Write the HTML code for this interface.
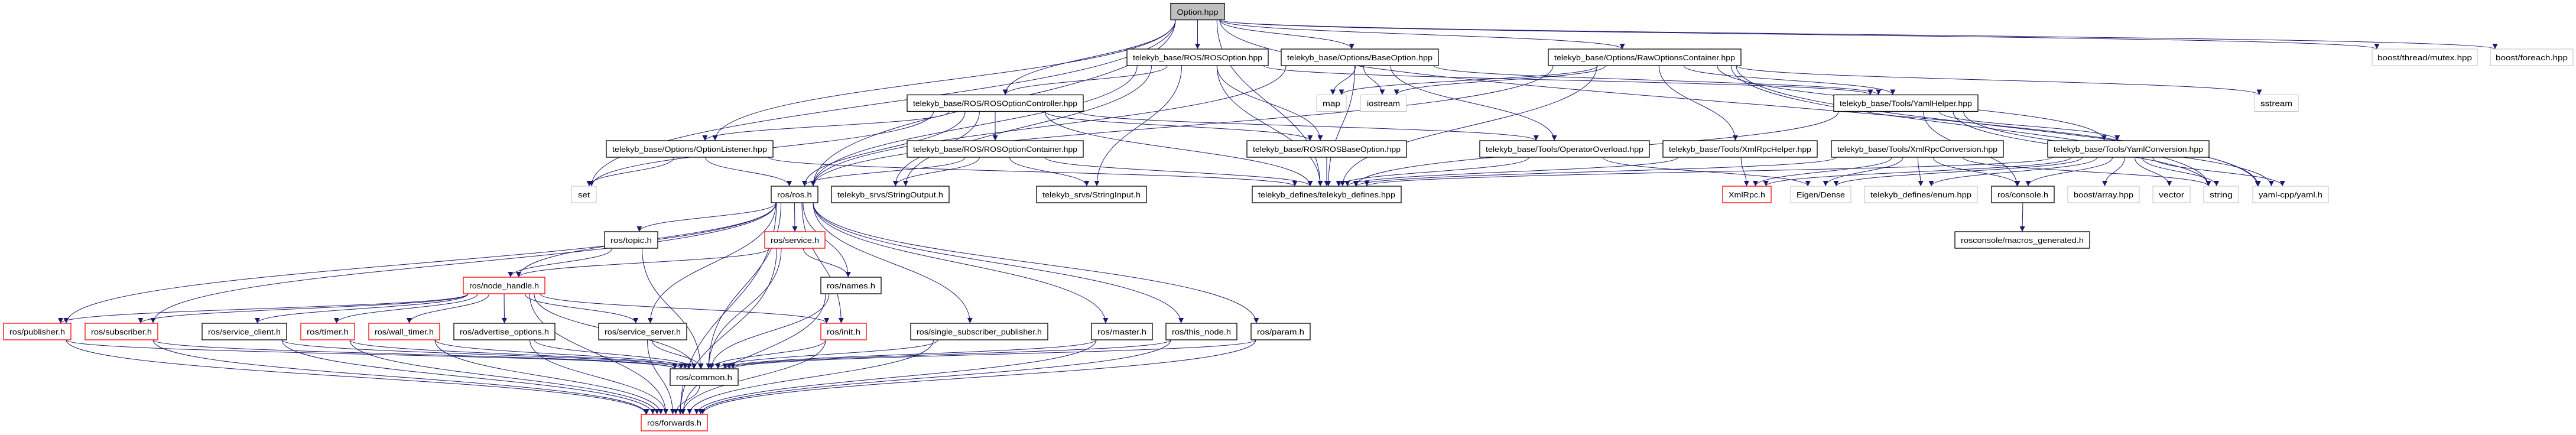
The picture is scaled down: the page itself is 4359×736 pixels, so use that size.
<!DOCTYPE html>
<html><head><meta charset="utf-8"><style>
html,body{margin:0;padding:0;background:#fff;width:4359px;height:736px;overflow:hidden}
svg{display:block}
text{font-family:"Liberation Sans",sans-serif;font-size:13px;fill:#000}
</style></head><body>
<svg id="g" width="4359" height="736" viewBox="0 0 4359 736" xmlns="http://www.w3.org/2000/svg">
<defs><marker id="a" viewBox="0 0 10 10" refX="10" refY="5" markerWidth="9" markerHeight="9" orient="auto" markerUnits="userSpaceOnUse"><path d="M0,0L10,5L0,10z" fill="#191970"/></marker></defs>
<g id="edges" fill="none" stroke="#191970" stroke-width="1"></g>
<g id="nodes"></g>
</svg>
<script>
var R=[5.6,83,160.5,238,315,392,469,547,624,701];
// id:[x1,x2,row,style,label]  style: b black, r red, g gray, o option
var N={
OPT:[1981,2072,0,'o','Option.hpp'],
ROSO:[1907,2146,1,'b','telekyb_base/ROS/ROSOption.hpp'],
BASE:[2168,2434,1,'b','telekyb_base/Options/BaseOption.hpp'],
RAW:[2620,2946,1,'b','telekyb_base/Options/RawOptionsContainer.hpp'],
MUT:[4014,4192,1,'g','boost/thread/mutex.hpp'],
FOR:[4214,4354,1,'g','boost/foreach.hpp'],
ROC:[1535,1833,2,'b','telekyb_base/ROS/ROSOptionController.hpp'],
MAP:[2228,2278,2,'g','map'],
IOS:[2302,2380,2,'g','iostream'],
YH:[3103,3347,2,'b','telekyb_base/Tools/YamlHelper.hpp'],
SST:[3815,3889,2,'g','sstream'],
OL:[1026,1308,3,'b','telekyb_base/Options/OptionListener.hpp'],
ROCT:[1535,1833,3,'b','telekyb_base/ROS/ROSOptionContainer.hpp'],
RBO:[2110,2380,3,'b','telekyb_base/ROS/ROSBaseOption.hpp'],
OO:[2504,2791,3,'b','telekyb_base/Tools/OperatorOverload.hpp'],
XRH:[2814,3075,3,'b','telekyb_base/Tools/XmlRpcHelper.hpp'],
XRC:[3099,3390,3,'b','telekyb_base/Tools/XmlRpcConversion.hpp'],
YC:[3465,3738,3,'b','telekyb_base/Tools/YamlConversion.hpp'],
SET:[967,1009,4,'g','set'],
ROS:[1305,1384,4,'b','ros/ros.h'],
SO:[1407,1606,4,'b','telekyb_srvs/StringOutput.h'],
SI:[1754,1940,4,'b','telekyb_srvs/StringInput.h'],
TD:[2119,2371,4,'b','telekyb_defines/telekyb_defines.hpp'],
XR:[2915,2997,4,'r','XmlRpc.h'],
ED:[3030,3132,4,'g','Eigen/Dense'],
EN:[3155,3346,4,'g','telekyb_defines/enum.hpp'],
RC:[3370,3476,4,'b','ros/console.h'],
BA:[3499,3620,4,'g','boost/array.hpp'],
VEC:[3643,3706,4,'g','vector'],
STR:[3729,3788,4,'g','string'],
YAML:[3812,3940,4,'g','yaml-cpp/yaml.h'],
TOP:[1023,1113,5,'b','ros/topic.h'],
SRV:[1294,1396,5,'r','ros/service.h'],
MG:[3308,3536,5,'b','rosconsole/macros_generated.h'],
NH:[784,922,6,'r','ros/node_handle.h'],
NAM:[1389,1491,6,'b','ros/names.h'],
PUB:[6,120,7,'r','ros/publisher.h'],
SUB:[144,267,7,'r','ros/subscriber.h'],
SC:[342,485,7,'b','ros/service_client.h'],
TIM:[509,600,7,'r','ros/timer.h'],
WT:[624,744,7,'r','ros/wall_timer.h'],
AO:[768,939,7,'b','ros/advertise_options.h'],
SS:[1013,1162,7,'b','ros/service_server.h'],
INIT:[1389,1466,7,'r','ros/init.h'],
SSP:[1541,1773,7,'b','ros/single_subscriber_publisher.h'],
MAS:[1847,1950,7,'b','ros/master.h'],
TN:[1973,2093,7,'b','ros/this_node.h'],
PAR:[2117,2217,7,'b','ros/param.h'],
COM:[1134,1249,8,'b','ros/common.h'],
FWD:[1085,1197,9,'r','ros/forwards.h']
};
var E={
OPT:'ROSO BASE RAW MUT FOR ROC OL SET ROS TD YAML',
ROSO:'ROC ROS SO SI TD YH RBO',
BASE:'MAP IOS ROS TD YH OO',
RAW:'MAP IOS TD XRH YH SST YC STR YAML ROS',
ROC:'OL ROCT ROS SO TD RBO SET OO',
ROCT:'ROS SO SI TD',
OL:'SET TD ROS',
RBO:'TD',OO:'TD ED',XRH:'XR TD',
XRC:'XR ED EN RC TD STR',
YH:'TD YC RC STR YAML',
YC:'TD RC BA VEC STR YAML EN ED XR',
RC:'MG',
ROS:'TOP SRV NAM NH PUB SUB SS INIT SSP MAS TN PAR COM FWD',
TOP:'NH COM',SRV:'NH NAM COM FWD',NAM:'COM FWD',
NH:'PUB SUB SC TIM WT AO SS INIT COM FWD',
PUB:'COM FWD',SUB:'COM FWD',SC:'COM FWD',TIM:'COM FWD',WT:'COM FWD',AO:'COM FWD',SS:'COM FWD',INIT:'COM FWD',SSP:'COM FWD',MAS:'COM FWD',TN:'COM FWD',PAR:'COM FWD',
COM:'FWD'
};
var NS='http://www.w3.org/2000/svg',eg=document.getElementById('edges'),ng=document.getElementById('nodes');
function ctr(n){return (n[0]+n[1])/2}
for(var s in E){E[s].split(' ').forEach(function(t){
 var a=N[s],b=N[t];var x1=ctr(a),y1=R[a[2]]+28,x2=ctr(b),y2=R[b[2]];
 // clamp endpoints inside box width
 var dx=x2-x1;x1=Math.max(a[0]+8,Math.min(a[1]-8,x1+dx*0.15));x2=Math.max(b[0]+8,Math.min(b[1]-8,x2-dx*0.05));
 var my=(y1+y2)/2;var p=document.createElementNS(NS,'path');
 p.setAttribute('d','M'+x1+','+y1+' C'+x1+','+my+' '+x2+','+(my)+' '+x2+','+y2);
 p.setAttribute('marker-end','url(#a)');eg.appendChild(p);});}
</script>
<svg width="0" height="0"></svg>
<script>
(function(){var NS='http://www.w3.org/2000/svg',ng=document.getElementById('nodes');
for(var k in N){var n=N[k],y=R[n[2]],w=n[1]-n[0];
 var r=document.createElementNS(NS,'rect');r.setAttribute('x',n[0]);r.setAttribute('y',y);r.setAttribute('width',w);r.setAttribute('height',28);
 var st=n[3];r.setAttribute('fill',st=='o'?'#bfbfbf':'#fff');r.setAttribute('stroke',st=='r'?'#ff0000':st=='g'?'#bfbfbf':'#000');r.setAttribute('stroke-width',st=='g'?1:1.3);
 ng.appendChild(r);}
var ts=document.querySelectorAll('#labels text');})();
</script>
<svg width="4359" height="736" style="position:absolute;left:0;top:0" xmlns="http://www.w3.org/2000/svg">
<g id="labels" text-anchor="middle">
<text x="2026.5" y="25" textLength="70" lengthAdjust="spacingAndGlyphs">Option.hpp</text>
<text x="2026.5" y="102" textLength="219" lengthAdjust="spacingAndGlyphs">telekyb_base/ROS/ROSOption.hpp</text>
<text x="2301" y="102" textLength="246" lengthAdjust="spacingAndGlyphs">telekyb_base/Options/BaseOption.hpp</text>
<text x="2783" y="102" textLength="306" lengthAdjust="spacingAndGlyphs">telekyb_base/Options/RawOptionsContainer.hpp</text>
<text x="4103" y="102" textLength="160" lengthAdjust="spacingAndGlyphs">boost/thread/mutex.hpp</text>
<text x="4284" y="102" textLength="122" lengthAdjust="spacingAndGlyphs">boost/foreach.hpp</text>
<text x="1684" y="179.5" textLength="278" lengthAdjust="spacingAndGlyphs">telekyb_base/ROS/ROSOptionController.hpp</text>
<text x="2253" y="179.5" textLength="30" lengthAdjust="spacingAndGlyphs">map</text>
<text x="2341" y="179.5" textLength="56" lengthAdjust="spacingAndGlyphs">iostream</text>
<text x="3225" y="179.5" textLength="224" lengthAdjust="spacingAndGlyphs">telekyb_base/Tools/YamlHelper.hpp</text>
<text x="3852" y="179.5" textLength="54" lengthAdjust="spacingAndGlyphs">sstream</text>
<text x="1167" y="257" textLength="262" lengthAdjust="spacingAndGlyphs">telekyb_base/Options/OptionListener.hpp</text>
<text x="1684" y="257" textLength="278" lengthAdjust="spacingAndGlyphs">telekyb_base/ROS/ROSOptionContainer.hpp</text>
<text x="2245" y="257" textLength="250" lengthAdjust="spacingAndGlyphs">telekyb_base/ROS/ROSBaseOption.hpp</text>
<text x="2647.5" y="257" textLength="267" lengthAdjust="spacingAndGlyphs">telekyb_base/Tools/OperatorOverload.hpp</text>
<text x="2944.5" y="257" textLength="241" lengthAdjust="spacingAndGlyphs">telekyb_base/Tools/XmlRpcHelper.hpp</text>
<text x="3244.5" y="257" textLength="271" lengthAdjust="spacingAndGlyphs">telekyb_base/Tools/XmlRpcConversion.hpp</text>
<text x="3601.5" y="257" textLength="253" lengthAdjust="spacingAndGlyphs">telekyb_base/Tools/YamlConversion.hpp</text>
<text x="988" y="334" textLength="20" lengthAdjust="spacingAndGlyphs">set</text>
<text x="1344.5" y="334" textLength="59" lengthAdjust="spacingAndGlyphs">ros/ros.h</text>
<text x="1506.5" y="334" textLength="179" lengthAdjust="spacingAndGlyphs">telekyb_srvs/StringOutput.h</text>
<text x="1847" y="334" textLength="166" lengthAdjust="spacingAndGlyphs">telekyb_srvs/StringInput.h</text>
<text x="2245" y="334" textLength="232" lengthAdjust="spacingAndGlyphs">telekyb_defines/telekyb_defines.hpp</text>
<text x="2956" y="334" textLength="62" lengthAdjust="spacingAndGlyphs">XmlRpc.h</text>
<text x="3081" y="334" textLength="82" lengthAdjust="spacingAndGlyphs">Eigen/Dense</text>
<text x="3250.5" y="334" textLength="171" lengthAdjust="spacingAndGlyphs">telekyb_defines/enum.hpp</text>
<text x="3423" y="334" textLength="86" lengthAdjust="spacingAndGlyphs">ros/console.h</text>
<text x="3559.5" y="334" textLength="101" lengthAdjust="spacingAndGlyphs">boost/array.hpp</text>
<text x="3674.5" y="334" textLength="43" lengthAdjust="spacingAndGlyphs">vector</text>
<text x="3758.5" y="334" textLength="39" lengthAdjust="spacingAndGlyphs">string</text>
<text x="3876" y="334" textLength="108" lengthAdjust="spacingAndGlyphs">yaml-cpp/yaml.h</text>
<text x="1068" y="411" textLength="70" lengthAdjust="spacingAndGlyphs">ros/topic.h</text>
<text x="1345" y="411" textLength="82" lengthAdjust="spacingAndGlyphs">ros/service.h</text>
<text x="3422" y="411" textLength="208" lengthAdjust="spacingAndGlyphs">rosconsole/macros_generated.h</text>
<text x="853" y="488" textLength="118" lengthAdjust="spacingAndGlyphs">ros/node_handle.h</text>
<text x="1440" y="488" textLength="82" lengthAdjust="spacingAndGlyphs">ros/names.h</text>
<text x="63" y="566" textLength="94" lengthAdjust="spacingAndGlyphs">ros/publisher.h</text>
<text x="205.5" y="566" textLength="103" lengthAdjust="spacingAndGlyphs">ros/subscriber.h</text>
<text x="413.5" y="566" textLength="123" lengthAdjust="spacingAndGlyphs">ros/service_client.h</text>
<text x="554.5" y="566" textLength="71" lengthAdjust="spacingAndGlyphs">ros/timer.h</text>
<text x="684" y="566" textLength="100" lengthAdjust="spacingAndGlyphs">ros/wall_timer.h</text>
<text x="853.5" y="566" textLength="151" lengthAdjust="spacingAndGlyphs">ros/advertise_options.h</text>
<text x="1087.5" y="566" textLength="129" lengthAdjust="spacingAndGlyphs">ros/service_server.h</text>
<text x="1427.5" y="566" textLength="57" lengthAdjust="spacingAndGlyphs">ros/init.h</text>
<text x="1657" y="566" textLength="212" lengthAdjust="spacingAndGlyphs">ros/single_subscriber_publisher.h</text>
<text x="1898.5" y="566" textLength="83" lengthAdjust="spacingAndGlyphs">ros/master.h</text>
<text x="2033" y="566" textLength="100" lengthAdjust="spacingAndGlyphs">ros/this_node.h</text>
<text x="2167" y="566" textLength="80" lengthAdjust="spacingAndGlyphs">ros/param.h</text>
<text x="1191.5" y="643" textLength="95" lengthAdjust="spacingAndGlyphs">ros/common.h</text>
<text x="1141" y="720" textLength="92" lengthAdjust="spacingAndGlyphs">ros/forwards.h</text>
</g></svg>
</body></html>
